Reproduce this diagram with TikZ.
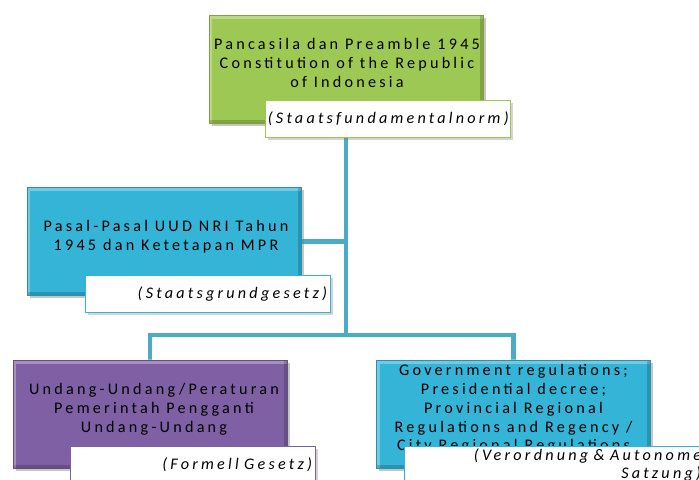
\documentclass[tikz,border=0pt]{standalone}
\usepackage{fontspec}
\setmainfont{Carlito}[LetterSpace=20]
\usepackage{tikz}
\usetikzlibrary{shadows,backgrounds}

\definecolor{lawgreen}{RGB}{157,200,83}
\definecolor{lawblue}{RGB}{52,180,214}
\definecolor{lawpurple}{RGB}{128,96,165}
\definecolor{trunkblue}{RGB}{75,172,198}

\begin{document}
\begin{tikzpicture}[x=0.025cm,y=-0.025cm,
    levelbox/.style={fill=#1,draw=#1!80!black,minimum width=6.85cm,minimum height=2.7cm,
      drop shadow={shadow xshift=2pt,shadow yshift=-2pt,opacity=0.45},
      path picture={
        \draw[line width=5pt,white,opacity=0.3] (path picture bounding box.south west) |- (path picture bounding box.north east);
        \draw[line width=5pt,black,opacity=0.18] (path picture bounding box.south west) -| (path picture bounding box.north east);}},
    boxtext/.style={align=center,inner sep=0pt,font=\fontsize{11.5}{13.4}\selectfont},
    tagbox/.style={fill=white,draw=#1,minimum height=0.92cm,align=right,inner sep=2pt,
      font=\fontsize{11.5}{12.6}\selectfont\itshape,
      drop shadow={shadow xshift=2pt,shadow yshift=-2pt,opacity=0.35}},
    trunk/.style={draw=trunkblue,line width=3.4pt}]
    \useasboundingbox (0,0) rectangle (699,480);
    \clip (0,0) rectangle (699,480);
    % level 1
    \node[levelbox=lawgreen] (pancasila) at (346,69.5) {};
    \node[boxtext] (pancasilatxt) at (347,63) {Pancasila dan Preamble 1945\\Constitution of the Republic\\of Indonesia};
    \node[tagbox=lawgreen,text width=5.98cm] (pancasilatag) at (387.5,118.5) {(Staatsfundamentalnorm)};
    % level 2
    \node[levelbox=lawblue] (uud) at (164,241.5) {};
    \node[boxtext] (uudtxt) at (166,237) {Pasal-Pasal UUD NRI Tahun\\1945 dan Ketetapan MPR};
    \node[tagbox=lawblue,text width=5.98cm] (uudtag) at (207.5,294) {(Staatsgrundgesetz)};
    % level 3
    \node[levelbox=lawpurple] (uu) at (150,414) {};
    \node[boxtext] (uutxt) at (154,409) {Undang-Undang/Peraturan\\Pemerintah Pengganti\\Undang-Undang};
    \node[tagbox=lawpurple,text width=5.98cm] (uutag) at (192.5,465) {(Formell Gesetz)};
    \node[levelbox=lawblue] (pp) at (513.5,414) {};
    \node[boxtext] (pptxt) at (513.5,409) {Government regulations;\\Presidential decree;\\Provincial Regional\\Regulations and Regency /\\City Regional Regulations};
    \node[tagbox=lawblue,text width=7.35cm] (pptag) at (554,465) {(Verordnung \& Autonome\\Satzung)};
    \coordinate (fork) at (346,335);
    \begin{scope}[on background layer]
      \draw[trunk] (pancasila.south) -- (fork);
      \draw[trunk] (uud.east) -- (uud.east -| fork);
      \draw[trunk] (uu.north) |- (fork) -| (pp.north);
    \end{scope}
\end{tikzpicture}
\end{document}
